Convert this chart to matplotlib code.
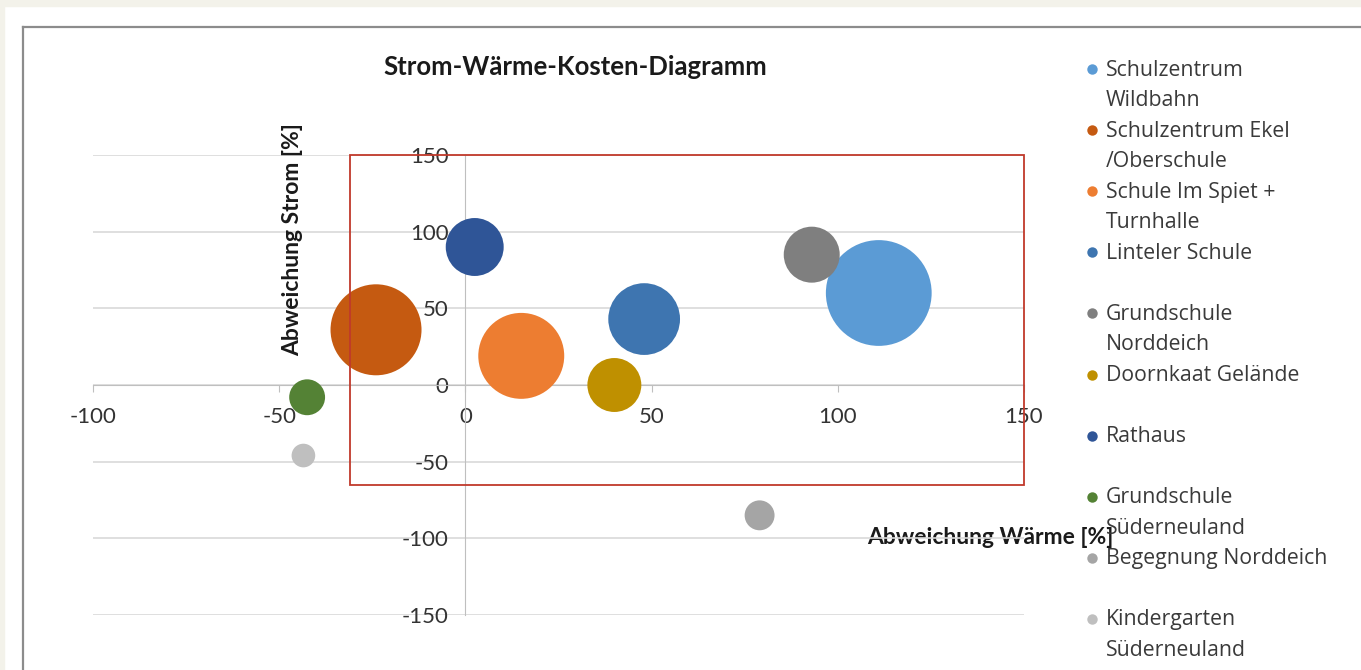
import matplotlib.pyplot as plt
from matplotlib.patches import Rectangle
from matplotlib.lines import Line2D

plt.rcParams['font.family'] = ['Lato', 'DejaVu Sans']
plt.rcParams['axes.unicode_minus'] = False

# data
namen = ["Schulzentrum\nWildbahn", "Schulzentrum Ekel\n/Oberschule", "Schule Im Spiet +\nTurnhalle",
         "Linteler Schule", "Grundschule\nNorddeich", "Doornkaat Gelände", "Rathaus",
         "Grundschule\nSüderneuland", "Begegnung Norddeich", "Kindergarten\nSüderneuland"]
waerme = [111, -24, 15, 48, 93, 40, 2.5, -42.5, 79, -43.5]
strom = [60, 36, 19, 43, 85, 0, 90, -8, -85, -46]
kosten = [100, 74, 66, 46, 28, 26, 30, 11.5, 8, 5]
farben = ["#5B9BD5", "#C55A11", "#ED7D31", "#3E75B0", "#7F7F7F", "#BF9000",
          "#2F5597", "#548235", "#A5A5A5", "#BFBFBF"]

# red marked area (data coords)
box_x0, box_x1 = -31, 150
box_y0, box_y1 = -65, 150

W, H = 1361, 670
fig = plt.figure(figsize=(W / 100, H / 100), dpi=100)
fig.patch.set_facecolor("white")

# cream page border + chart frame
fig.add_artist(Rectangle((0, 1 - 6 / H), 1, 6 / H, transform=fig.transFigure, color="#F3F2EA", zorder=0))
fig.add_artist(Rectangle((0, 0), 4 / W, 1, transform=fig.transFigure, color="#F3F2EA", zorder=0))
fig.add_artist(Line2D([23 / W, 1], [1 - 27 / H, 1 - 27 / H], transform=fig.transFigure, color="#8C8C8C", lw=1.6))
fig.add_artist(Line2D([23 / W, 23 / W], [0, 1 - 27 / H], transform=fig.transFigure, color="#8C8C8C", lw=1.6))

ax = fig.add_axes([93 / W, 55 / H, 931 / W, 460 / H])
ax.set_facecolor("none")
ax.set_xlim(-100, 150)
ax.set_ylim(-150, 150)

# bubbles
for x, y, k, c in zip(waerme, strom, kosten, farben):
    ax.scatter(x, y, s=k * 58, color=c, edgecolors="none", zorder=3)

ax.add_patch(Rectangle((box_x0, box_y0), box_x1 - box_x0, box_y1 - box_y0,
                       fill=False, edgecolor="#C0392B", lw=1.3, zorder=4, clip_on=False))

# axes through origin
for s in ["top", "right"]:
    ax.spines[s].set_visible(False)
ax.spines["left"].set_position(("data", 0))
ax.spines["bottom"].set_position(("data", 0))
ax.spines["left"].set_color("#BFBFBF")
ax.spines["bottom"].set_color("#BFBFBF")
ax.set_xticks([-100, -50, 0, 50, 100, 150])
ax.set_yticks([-150, -100, -50, 0, 50, 100, 150])
ax.tick_params(axis="x", length=5, color="#BFBFBF", direction="out", pad=11, labelsize=16, labelcolor="#333333")
ax.tick_params(axis="y", length=0, pad=12, labelsize=16, labelcolor="#333333")
ax.grid(axis="y", color="#D9D9D9", lw=1.2, zorder=0)
ax.set_axisbelow(True)

ax.set_xlabel("Abweichung Wärme [%]", fontsize=16.5, fontweight="bold", color="#1A1A1A")
ax.xaxis.set_label_coords((990 - 93) / 931, (615 - 538) / 460)
ax.xaxis.label.set_va("center")
ax.set_ylabel("Abweichung Strom [%]", fontsize=16.5, fontweight="bold", color="#1A1A1A")
ax.yaxis.set_label_coords((293 - 93) / 931, (615 - 240) / 460)
ax.yaxis.label.set_va("center")

fig.text(575 / W, 1 - 67 / H, "Strom-Wärme-Kosten-Diagramm", ha="center", va="center",
         fontsize=18.5, fontweight="bold", color="#1A1A1A")

# legend
for i, (n, c) in enumerate(zip(namen, farben)):
    yp = 69 + 61.1 * i
    fig.add_artist(Line2D([1092 / W], [1 - yp / H], transform=fig.transFigure, marker="o",
                          ms=7.5, color=c, mec="none", ls="none"))
    for j, zeile in enumerate(n.split("\n")):
        fig.text(1106 / W, 1 - (yp + 1 + 30.5 * j) / H, zeile, ha="left", va="center",
                 fontsize=15.3, color="#3A3A3A", family=["Open Sans", "DejaVu Sans"])

fig.savefig("out.png", dpi=100)
